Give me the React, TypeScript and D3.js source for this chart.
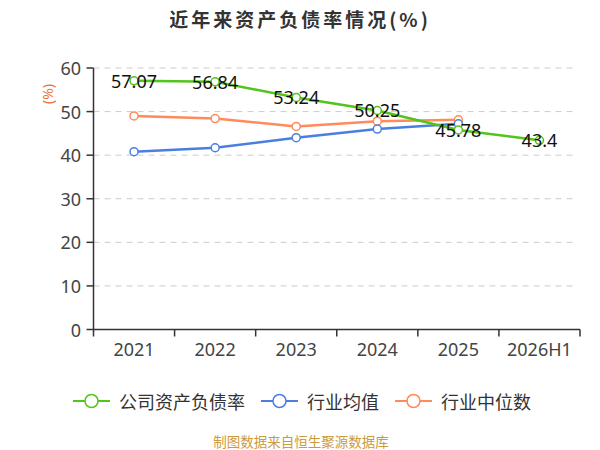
import * as d3 from "d3";

const years = ["2021", "2022", "2023", "2024", "2025", "2026H1"];
const companyRatio = [57.07, 56.84, 53.24, 50.25, 45.78, 43.4];
const industryAvg = [40.8, 41.7, 44.0, 46.0, 47.2];
const industryMedian = [49.0, 48.4, 46.6, 47.8, 48.1];
const yTicks = [0, 10, 20, 30, 40, 50, 60];
const seriesNames = ["公司资产负债率", "行业均值", "行业中位数"];
const seriesColors = ["#52c41a", "#4a7fe0", "#ff8a5b"];

const W = 600;
const H = 450;
const left = 93.5;
const right = 580;
const top = 68;
const bottom = 329.5;

const App = () => {
  const x = d3.scaleBand().domain(years).range([left, right]);
  const y = d3.scaleLinear().domain([0, 60]).range([bottom, top]);
  const cx = (i: number) => (x(years[i]) as number) + x.bandwidth() / 2;

  const line = d3
    .line<number>()
    .x((_d, i) => cx(i))
    .y((d) => y(d));

  const series = [companyRatio, industryAvg, industryMedian];
  const font = "'Noto Sans', 'Noto Sans CJK SC', sans-serif";

  // legend layout: icon 37px, gap 9px, text 18px per char, gap 16px
  let lx = 73;
  const legend = seriesNames.map((name, i) => {
    const item = { name, x: lx, color: seriesColors[i] };
    lx += 37 + 9 + name.length * 18 + 16;
    return item;
  });

  return (
    <svg
      width={W}
      height={H}
      style={{ position: "absolute", left: 0, top: 0, background: "#fff" }}
      fontFamily={font}
    >
      <text
        x={300}
        y={18}
        textAnchor="middle"
        dominantBaseline="central"
        fontSize={19}
        fontWeight="bold"
        letterSpacing={3}
        fill="#333"
        fontFamily="'Noto Sans CJK SC', sans-serif"
      >
        近年来资产负债率情况(%)
      </text>

      {/* grid */}
      {yTicks.filter((t) => t > 0).map((t) => (
        <line
          key={t}
          x1={left}
          x2={577}
          y1={y(t)}
          y2={y(t)}
          stroke="#ccc"
          strokeDasharray="6,5"
          strokeWidth={1}
        />
      ))}

      {/* y axis */}
      <line x1={left} x2={left} y1={top} y2={bottom} stroke="#333" strokeWidth={1.5} />
      {yTicks.map((t) => (
        <g key={t}>
          <line x1={left - 7} x2={left} y1={y(t)} y2={y(t)} stroke="#333" strokeWidth={1.5} />
          <text
            x={81}
            y={y(t)}
            textAnchor="end"
            dominantBaseline="central"
            fontSize={18}
            fill="#444"
          >
            {t}
          </text>
        </g>
      ))}
      <text
        transform={`translate(47,94) rotate(-90)`}
        textAnchor="middle"
        dominantBaseline="central"
        fontSize={14}
        fill="#e8703a"
      >
        (%)
      </text>

      {/* x axis */}
      <line x1={left} x2={right} y1={bottom} y2={bottom} stroke="#333" strokeWidth={1.5} />
      {years.map((yr) => (
        <line
          key={"t" + yr}
          x1={x(yr) as number}
          x2={x(yr) as number}
          y1={bottom}
          y2={bottom + 7}
          stroke="#333"
          strokeWidth={1.5}
        />
      ))}
      <line x1={right} x2={right} y1={bottom} y2={bottom + 7} stroke="#333" strokeWidth={1.5} />
      {years.map((yr, i) => (
        <text
          key={yr}
          x={cx(i)}
          y={349}
          textAnchor="middle"
          dominantBaseline="central"
          fontSize={18}
          fill="#444"
        >
          {yr}
        </text>
      ))}

      {/* lines, drawn so that company series is on top */}
      {[2, 1, 0].map((s) => (
        <g key={s}>
          <path
            d={line(series[s]) as string}
            fill="none"
            stroke={seriesColors[s]}
            strokeWidth={2.5}
          />
          {series[s].map((v, i) => (
            <circle
              key={i}
              cx={cx(i)}
              cy={y(v)}
              r={4}
              fill="#fff"
              stroke={seriesColors[s]}
              strokeWidth={1.5}
            />
          ))}
        </g>
      ))}

      {/* value labels */}
      {companyRatio.map((v, i) => (
        <text
          key={i}
          x={cx(i)}
          y={y(v)}
          textAnchor="middle"
          dominantBaseline="central"
          fontSize={18}
          fill="#111"
        >
          {v}
        </text>
      ))}

      {/* legend */}
      {legend.map((l) => (
        <g key={l.name}>
          <line x1={l.x} x2={l.x + 37} y1={401} y2={401} stroke={l.color} strokeWidth={2} />
          <circle cx={l.x + 18.5} cy={401} r={6.5} fill="#fff" stroke={l.color} strokeWidth={1.5} />
          <text
            x={l.x + 46}
            y={401}
            dominantBaseline="central"
            fontSize={18}
            fill="#333"
            fontFamily="'Noto Sans CJK SC', sans-serif"
          >
            {l.name}
          </text>
        </g>
      ))}

      <text
        x={301}
        y={441}
        textAnchor="middle"
        dominantBaseline="central"
        fontSize={13.5}
        fill="#cc9a3c"
        fontFamily="'Noto Sans CJK SC', sans-serif"
      >
        制图数据来自恒生聚源数据库
      </text>
    </svg>
  );
};

export default App;
